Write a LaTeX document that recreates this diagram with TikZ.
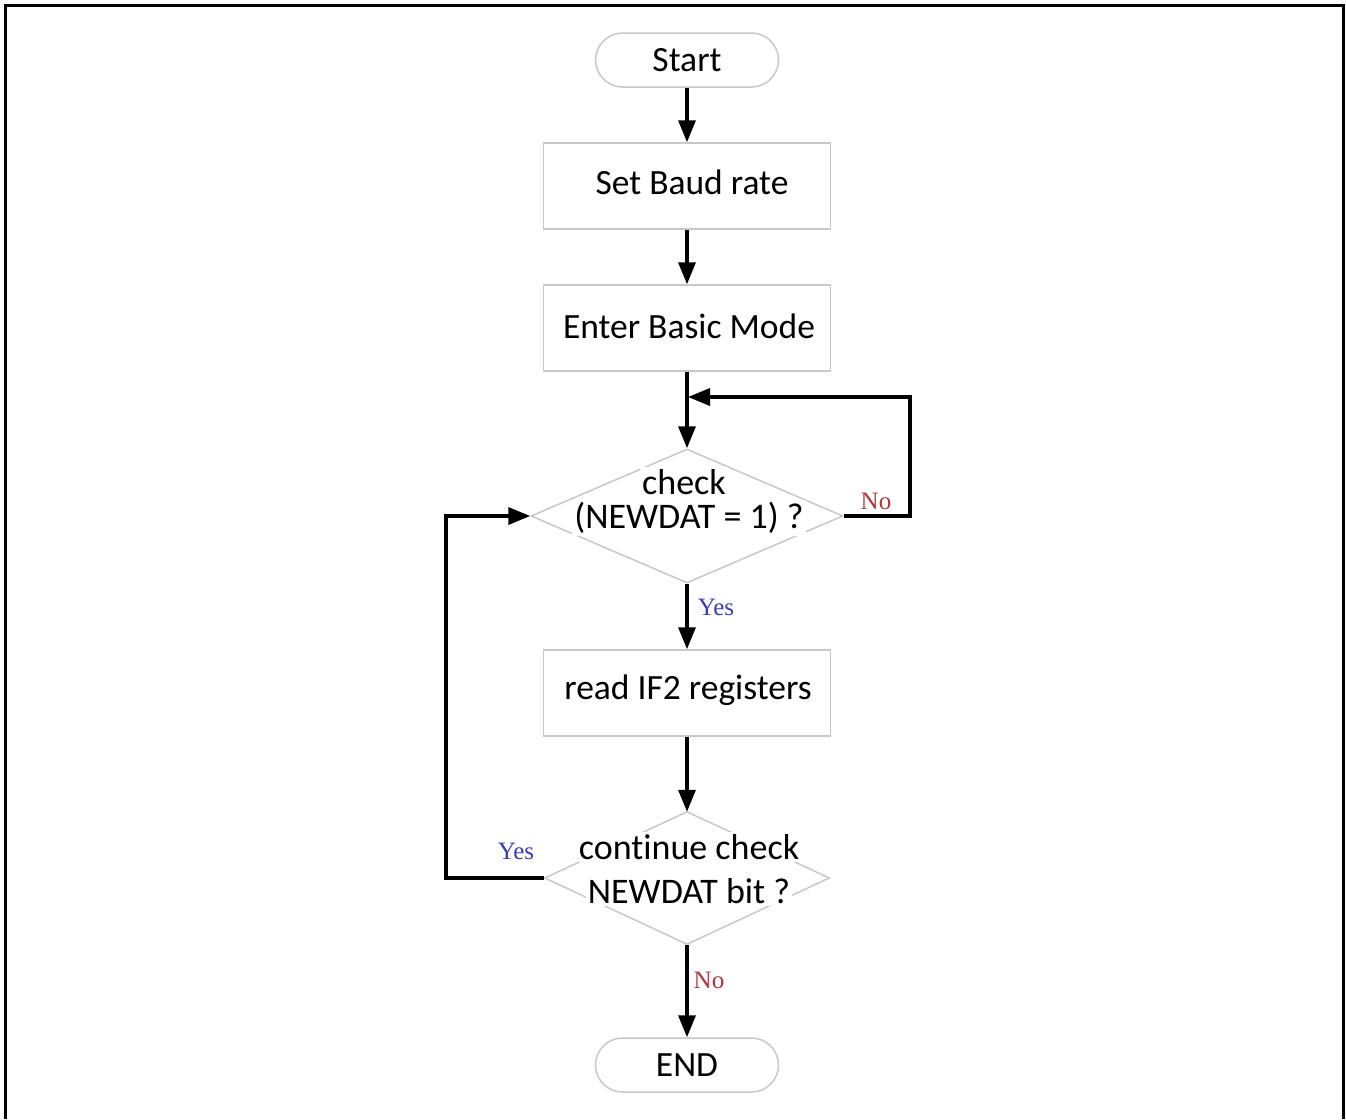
\documentclass[tikz,border=0pt]{standalone}
\usepackage{fontspec}
\setmainfont[RawFeature=-liga]{Carlito}
\newfontfamily\labfont{Liberation Serif}
\usetikzlibrary{shapes.geometric,arrows.meta}
\definecolor{edgegray}{HTML}{C8C8C8}
\definecolor{yesblue}{HTML}{3C3CB4}
\definecolor{nored}{HTML}{B4343C}
\tikzset{
  proc/.style={draw=edgegray, line width=1.5pt, minimum width=287pt, minimum height=86pt, inner sep=0pt, font=\fontsize{35.5}{40}\selectfont},
  term/.style={draw=edgegray, line width=1.5pt, rounded corners=27pt, minimum width=183pt, minimum height=54pt, inner sep=0pt, font=\fontsize{35.5}{40}\selectfont},
  decis/.style={draw=edgegray, line width=1.5pt, diamond, aspect=2.3, inner sep=0pt},
  dtext/.style={fill=white, inner sep=2pt, font=\fontsize{36}{40}\selectfont},
  flow/.style={line width=3.5pt, -{Triangle[length=22pt,width=17pt]}},
  yeslab/.style={text=yesblue, font=\labfont\fontsize{25}{27}\selectfont},
  nolab/.style={text=nored, font=\labfont\fontsize{25}{27}\selectfont},
}
\begin{document}
\begin{tikzpicture}[x=1pt,y=-1pt]
\useasboundingbox (0,0) rectangle (1346,1119);
\draw[line width=3pt] (5,1119) -- (5,5) -- (1343,5) -- (1343,1119);

\node[term] (start) at (687,60) {Start};
\node[proc] (baud) at (687,186) {};
\node[font=\fontsize{35.5}{40}\selectfont] (baudt) at (692,182) {Set Baud rate};
\node[proc] (basic) at (687,328) {};
\node[font=\fontsize{35.5}{40}\selectfont] (basict) at (689,326) {Enter Basic Mode};
\node[decis, minimum width=312pt, minimum height=134pt] (check) at (687,516) {};
\node[dtext] (checkt1) at (684,482) {check};
\node[dtext] (checkt2) at (689,518) {(NEWDAT = 1) ?};
\node[proc] (read) at (687,693) {};
\node[font=\fontsize{35.5}{40}\selectfont] (readt) at (688,690) {read IF2 registers};
\node[decis, minimum width=285pt, minimum height=133pt] (cont) at (687,878) {};
\node[dtext] (contt1) at (689,847) {continue check};
\node[dtext] (contt2) at (689,891) {NEWDAT bit ?};
\node[term] (end) at (687,1065) {END};

\coordinate (merge) at (687,397);
\coordinate (nocorner1) at (910,516);
\coordinate (nocorner2) at (910,397);
\coordinate (yescorner1) at (446,878);
\coordinate (yescorner2) at (446,516);

\draw[flow] (start.south) -- (baud.north);
\draw[flow] (baud.south) -- (basic.north);
\draw[flow] (basic.south) -- (check.north);
\draw[flow] (check.south) -- (read.north);
\draw[flow] (read.south) -- ([yshift=-1pt]cont.north);
\draw[flow] (cont.south) -- (end.north);
\draw[line width=3.5pt, -{Triangle[length=22pt,width=17pt]}, line join=miter] (check.east) -- (nocorner1) -- (nocorner2) -- ([xshift=1pt]merge);
\draw[line width=3.5pt, -{Triangle[length=22pt,width=17pt]}, line join=miter] (cont.west) -- (yescorner1) -- (yescorner2) -- (check.west);

\node[nolab] (nolab1) at (876,501) {No};
\node[yeslab] (yeslab1) at (716,607) {Yes};
\node[yeslab] (yeslab2) at (516,851) {Yes};
\node[nolab] (nolab2) at (709,980) {No};
\end{tikzpicture}
\end{document}
